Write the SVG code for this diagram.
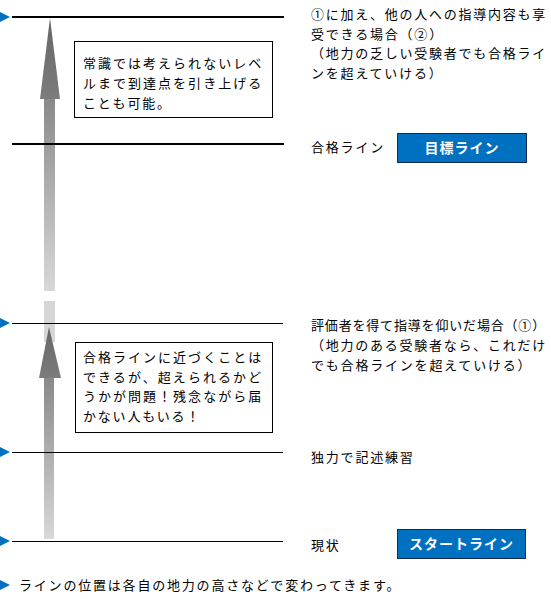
<svg xmlns="http://www.w3.org/2000/svg" width="551" height="599" viewBox="0 0 551 599">
<style>
.t{font-family:"Noto Sans CJK JP","Liberation Sans",sans-serif;font-size:13px;fill:#000;letter-spacing:1.8px}
.bt{font-family:"Noto Sans CJK JP","Liberation Sans",sans-serif;font-size:14px;font-weight:bold;fill:#fff;text-anchor:middle;letter-spacing:1px}
.lvl{stroke:#000;fill:none}
.box{fill:#fff;stroke:#000;stroke-width:1}
.blue{fill:#0070c0;stroke:#14294d;stroke-width:1}
.tri{fill:#0070c0}
</style>
<defs>
<linearGradient id="shaft" x1="0" y1="0" x2="0" y2="1">
<stop offset="0" stop-color="#8a8a8a"/>
<stop offset="1" stop-color="#d8d8d8"/>
</linearGradient>
<linearGradient id="head" x1="0" y1="0" x2="0" y2="1">
<stop offset="0" stop-color="#666666"/>
<stop offset="1" stop-color="#7c7c7c"/>
</linearGradient>
</defs>

<g id="connectors">
<g id="arrow-upper">
<rect x="44" y="99" width="11" height="192" fill="url(#shaft)"/>
<rect x="44" y="301" width="11" height="41" fill="#d6d6d6"/>
<polygon points="50,18 60,99 40,99" fill="url(#head)"/>
</g>
</g>

<g id="level-goal">
<polygon class="tri" points="0,12 10,17 0,22"/>
<line class="lvl" x1="12" y1="17" x2="284" y2="17" stroke-width="2"/>
<text class="t" x="311" y="19" textLength="236" lengthAdjust="spacing">①に加え、他の人への指導内容も享</text>
<text class="t" x="311" y="38.5">受できる場合（②）</text>
<text class="t" x="311" y="58" textLength="236" lengthAdjust="spacing">（地力の乏しい受験者でも合格ライ</text>
<text class="t" x="311" y="77.5">ンを超えていける）</text>
</g>

<g id="level-pass">
<line class="lvl" x1="12" y1="144" x2="284" y2="144" stroke-width="2"/>
<text class="t" x="311" y="152">合格ライン</text>
</g>

<g id="target-line">
<rect class="blue" x="397.5" y="133.5" width="129" height="29"/>
<text class="bt" x="462" y="153">目標ライン</text>
</g>

<g id="level-advisor">
<polygon class="tri" points="0,318 10,323 0,328"/>
<line class="lvl" x1="12" y1="323.5" x2="283" y2="323.5" stroke-width="1"/>
<text class="t" x="311" y="330" textLength="236" lengthAdjust="spacing">評価者を得て指導を仰いだ場合（①）</text>
<text class="t" x="311" y="350" textLength="236" lengthAdjust="spacing">（地力のある受験者なら、これだけ</text>
<text class="t" x="311" y="370">でも合格ラインを超えていける）</text>
</g>

<g id="arrow-lower-group">
<rect x="44" y="378" width="10" height="161" fill="url(#shaft)"/>
<polygon points="49,327 61,378 39,378" fill="url(#head)"/>
</g>

<g id="note-upper">
<rect class="box" x="74.5" y="41.5" width="198" height="76"/>
<text class="t" x="83" y="68" textLength="180" lengthAdjust="spacing">常識では考えられないレベ</text>
<text class="t" x="83" y="88" textLength="180" lengthAdjust="spacing">ルまで到達点を引き上げる</text>
<text class="t" x="83" y="108">ことも可能。</text>
</g>

<g id="note-lower">
<rect class="box" x="75.5" y="342.5" width="197" height="90"/>
<text class="t" x="83" y="362" textLength="180" lengthAdjust="spacing">合格ラインに近づくことは</text>
<text class="t" x="83" y="381.5" textLength="180" lengthAdjust="spacing">できるが、超えられるかど</text>
<text class="t" x="83" y="401" textLength="180" lengthAdjust="spacing">うかが問題！残念ながら届</text>
<text class="t" x="83" y="420.5">かない人もいる！</text>
</g>

<g id="level-self">
<polygon class="tri" points="0,447 10,452 0,457"/>
<line class="lvl" x1="12" y1="452.5" x2="283" y2="452.5" stroke-width="1"/>
<text class="t" x="311" y="462">独力で記述練習</text>
</g>

<g id="level-current">
<polygon class="tri" points="0,536 10,541 0,546"/>
<line class="lvl" x1="12" y1="541.5" x2="283" y2="541.5" stroke-width="1"/>
<text class="t" x="311" y="550">現状</text>
</g>

<g id="start-line">
<rect class="blue" x="397.5" y="529.5" width="128" height="29"/>
<text class="bt" x="461.5" y="549">スタートライン</text>
</g>

<g id="legend">
<polygon class="tri" points="0,580 10,585 0,590"/>
<text class="t" x="19" y="590">ラインの位置は各自の地力の高さなどで変わってきます。</text>
</g>
</svg>
